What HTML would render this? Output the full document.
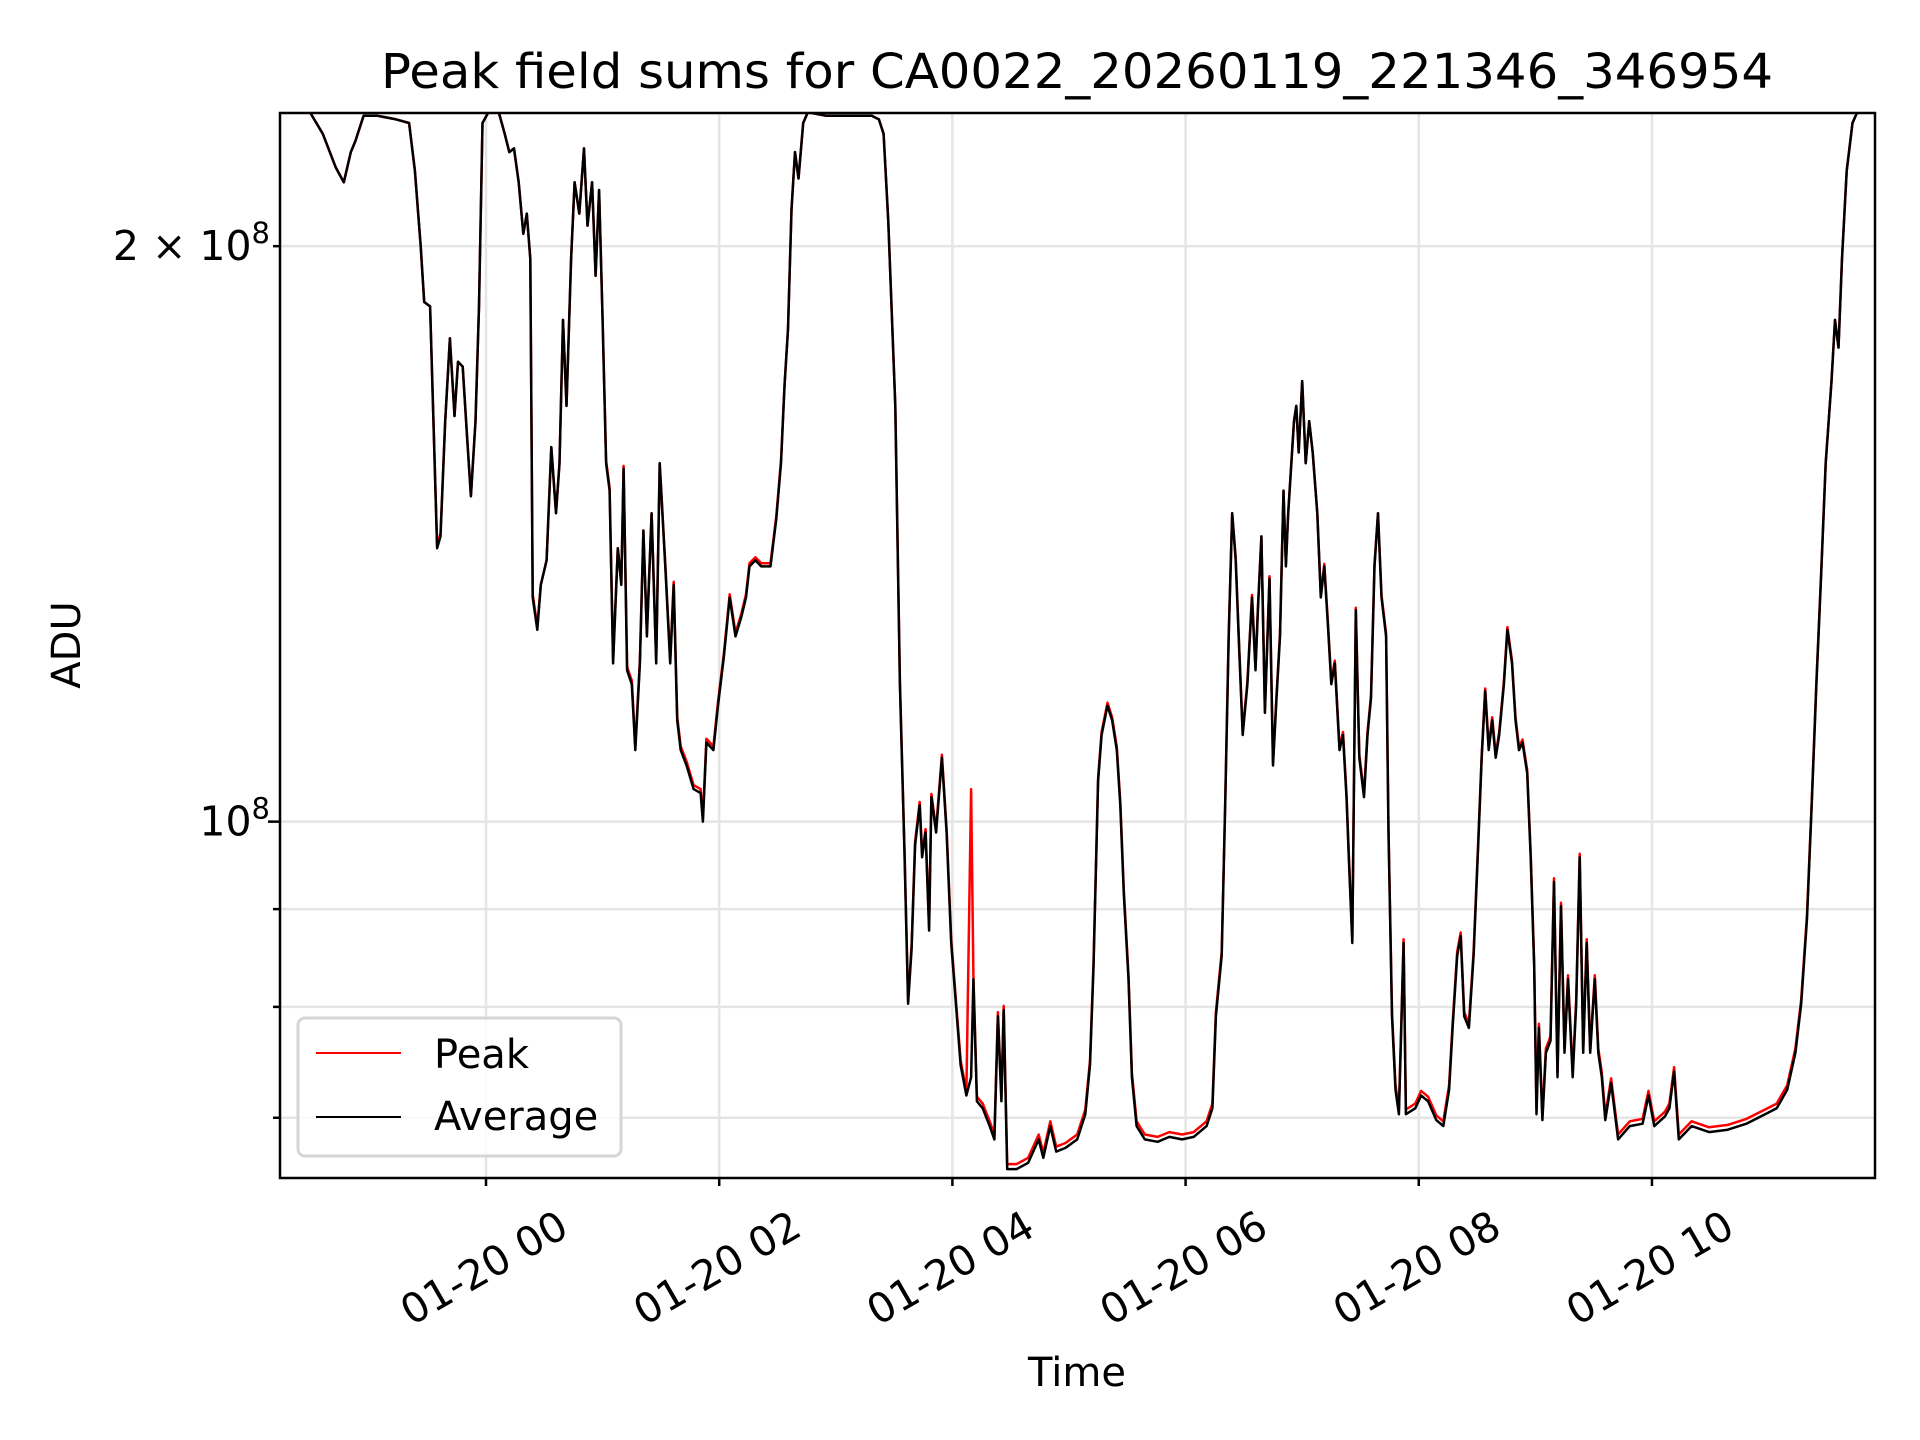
<!DOCTYPE html>
<html><head><meta charset="utf-8"><style>
html,body{margin:0;padding:0;background:#fff;}
svg{display:block;font-family:"DejaVu Sans","Liberation Sans",sans-serif;}
</style></head><body>
<svg id="chart" width="1920" height="1440" viewBox="0 0 1920 1440" xmlns="http://www.w3.org/2000/svg">
<rect width="1920" height="1440" fill="#fff"/>
<text x="1077" y="88" font-size="48" text-anchor="middle" textLength="1392" lengthAdjust="spacingAndGlyphs">Peak field sums for CA0022_20260119_221346_346954</text>
<g id="grid"></g>
<defs><clipPath id="plotclip"><rect x="280" y="113" width="1595" height="1065"/></clipPath></defs>
<g id="series" clip-path="url(#plotclip)"></g>
<rect x="280" y="113" width="1595" height="1065" fill="none" stroke="#000" stroke-width="2.5"/>
<g id="ticks"></g>
<text x="0" y="0" font-size="40" text-anchor="middle" transform="translate(80,645) rotate(-90)">ADU</text>
<text x="1077" y="1386" font-size="40" text-anchor="middle">Time</text>
<g>
<rect x="298" y="1018" width="323" height="138" rx="7" fill="#fff" fill-opacity="0.8" stroke="#d6d6d6" stroke-width="3"/>
<line x1="316" y1="1053" x2="401" y2="1053" stroke="#ff0000" stroke-width="2"/>
<text x="434" y="1068" font-size="40">Peak</text>
<line x1="316" y1="1117" x2="401" y2="1117" stroke="#000" stroke-width="2"/>
<text x="434" y="1130" font-size="40">Average</text>
</g>
</svg>
<script>
const hours = [
-1.78,-1.51,-1.40,-1.29,-1.22,-1.16,-1.12,-1.05,-0.93,-0.77,
-0.66,-0.61,-0.56,-0.53,-0.48,-0.45,-0.42,-0.39,-0.35,-0.31,
-0.27,-0.24,-0.20,-0.16,-0.13,-0.09,-0.06,-0.03,0.02,0.11,
0.16,0.20,0.24,0.28,0.32,0.35,0.38,0.40,0.44,0.47,
0.52,0.56,0.60,0.63,0.66,0.69,0.73,0.76,0.80,0.84,
0.87,0.91,0.94,0.97,1.00,1.03,1.06,1.09,1.13,1.16,
1.18,1.21,1.25,1.28,1.32,1.35,1.38,1.42,1.46,1.49,
1.54,1.58,1.61,1.64,1.67,1.72,1.78,1.84,1.86,1.89,
1.95,1.99,2.04,2.09,2.14,2.19,2.23,2.26,2.31,2.36,
2.44,2.49,2.53,2.56,2.59,2.62,2.65,2.68,2.72,2.76,
2.92,3.07,3.31,3.37,3.41,3.45,3.51,3.55,3.59,3.62,
3.65,3.68,3.72,3.74,3.77,3.80,3.82,3.86,3.91,3.95,
3.99,4.03,4.07,4.12,4.16,4.18,4.21,4.26,4.32,4.36,
4.39,4.42,4.44,4.47,4.55,4.65,4.74,4.78,4.84,4.89,
4.97,5.07,5.14,5.18,5.21,5.25,5.28,5.33,5.37,5.41,
5.44,5.47,5.51,5.54,5.58,5.65,5.76,5.86,5.97,6.07,
6.18,6.23,6.26,6.31,6.34,6.37,6.40,6.43,6.46,6.49,
6.53,6.57,6.60,6.62,6.65,6.68,6.72,6.75,6.78,6.81,
6.84,6.86,6.88,6.93,6.95,6.97,7.00,7.03,7.06,7.09,
7.13,7.16,7.19,7.22,7.25,7.28,7.32,7.35,7.38,7.40,
7.43,7.46,7.49,7.53,7.56,7.59,7.62,7.65,7.68,7.72,
7.74,7.77,7.80,7.83,7.87,7.89,7.97,8.02,8.08,8.15,
8.21,8.26,8.29,8.33,8.36,8.39,8.43,8.47,8.51,8.54,
8.57,8.60,8.63,8.66,8.69,8.73,8.76,8.80,8.83,8.86,
8.89,8.93,8.96,8.99,9.01,9.03,9.06,9.09,9.13,9.16,
9.19,9.22,9.25,9.28,9.32,9.35,9.38,9.41,9.44,9.47,
9.51,9.54,9.57,9.60,9.65,9.71,9.81,9.92,9.97,10.02,
10.11,10.15,10.19,10.23,10.34,10.49,10.65,10.81,10.97,11.07,
11.16,11.23,11.28,11.33,11.37,11.41,11.45,11.49,11.54,11.57,
11.60,11.63,11.67,11.72,11.76,11.93];
const averageValues = [
2.35,2.35,2.29,2.20,2.16,2.24,2.27,2.34,2.34,2.33,
2.32,2.19,2.0,1.87,1.86,1.61,1.39,1.41,1.62,1.79,
1.63,1.74,1.73,1.58,1.48,1.62,1.86,2.32,2.35,2.35,
2.29,2.24,2.25,2.16,2.03,2.08,1.97,1.31,1.26,1.33,
1.37,1.57,1.45,1.54,1.83,1.65,1.97,2.16,2.08,2.25,
2.05,2.16,1.93,2.14,1.83,1.54,1.49,1.21,1.39,1.33,
1.53,1.20,1.18,1.09,1.21,1.42,1.25,1.45,1.21,1.54,
1.35,1.21,1.33,1.13,1.09,1.07,1.04,1.035,1.0,1.10,
1.09,1.15,1.22,1.31,1.25,1.28,1.31,1.36,1.37,1.36,
1.36,1.44,1.54,1.69,1.81,2.09,2.24,2.17,2.32,2.35,
2.34,2.34,2.34,2.33,2.29,2.06,1.65,1.18,0.958,0.803,
0.858,0.972,1.02,0.958,0.987,0.877,1.03,0.987,1.08,0.987,
0.864,0.803,0.746,0.719,0.735,0.827,0.714,0.708,0.693,0.682,
0.791,0.714,0.797,0.658,0.658,0.663,0.682,0.667,0.693,0.672,
0.675,0.682,0.703,0.746,0.839,1.05,1.11,1.15,1.13,1.09,
1.02,0.917,0.827,0.735,0.693,0.682,0.68,0.684,0.682,0.684,
0.693,0.708,0.791,0.851,1.02,1.25,1.45,1.37,1.23,1.11,
1.18,1.31,1.20,1.29,1.41,1.14,1.34,1.07,1.16,1.25,
1.49,1.36,1.45,1.62,1.65,1.56,1.70,1.54,1.62,1.56,
1.45,1.31,1.36,1.27,1.18,1.21,1.09,1.11,1.03,0.958,
0.864,1.29,1.08,1.03,1.11,1.16,1.36,1.45,1.31,1.25,
0.987,0.791,0.724,0.703,0.864,0.703,0.708,0.719,0.714,0.698,
0.693,0.724,0.78,0.851,0.871,0.791,0.78,0.851,0.972,1.08,
1.17,1.09,1.13,1.08,1.11,1.18,1.26,1.21,1.13,1.09,
1.10,1.06,0.958,0.839,0.703,0.78,0.698,0.757,0.768,0.93,
0.735,0.903,0.757,0.827,0.735,0.803,0.958,0.757,0.864,0.757,
0.827,0.757,0.735,0.698,0.73,0.682,0.693,0.695,0.719,0.693,
0.701,0.708,0.74,0.682,0.693,0.688,0.69,0.695,0.703,0.708,
0.724,0.757,0.803,0.89,1.02,1.18,1.34,1.54,1.70,1.83,
1.77,1.97,2.19,2.32,2.35,2.35];
const peakValues = [
2.35,2.35,2.29,2.20,2.16,2.24,2.27,2.34,2.34,2.33,
2.32,2.19,2.0,1.87,1.86,1.61,1.395,1.415,1.62,1.79,
1.63,1.74,1.73,1.58,1.48,1.62,1.86,2.32,2.35,2.35,
2.29,2.24,2.25,2.16,2.03,2.08,1.97,1.315,1.265,1.33,
1.37,1.57,1.45,1.54,1.83,1.65,1.97,2.16,2.08,2.25,
2.05,2.16,1.93,2.14,1.83,1.545,1.495,1.215,1.39,1.335,
1.535,1.205,1.185,1.095,1.215,1.42,1.255,1.45,1.215,1.54,
1.355,1.215,1.335,1.135,1.095,1.075,1.045,1.04,1.005,1.105,
1.095,1.155,1.225,1.315,1.255,1.285,1.315,1.365,1.375,1.365,
1.365,1.445,1.545,1.69,1.81,2.09,2.24,2.17,2.32,2.35,
2.34,2.34,2.34,2.33,2.29,2.06,1.65,1.185,0.962,0.807,
0.862,0.976,1.024,0.962,0.991,0.881,1.034,0.991,1.084,0.991,
0.868,0.807,0.75,0.723,1.04,0.831,0.718,0.712,0.697,0.686,
0.795,0.718,0.801,0.662,0.662,0.667,0.686,0.671,0.697,0.676,
0.679,0.686,0.707,0.75,0.843,1.054,1.114,1.154,1.134,1.094,
1.024,0.921,0.831,0.739,0.697,0.686,0.684,0.688,0.686,0.688,
0.697,0.712,0.795,0.855,1.024,1.254,1.45,1.374,1.234,1.114,
1.184,1.314,1.204,1.294,1.41,1.144,1.344,1.074,1.164,1.254,
1.49,1.364,1.45,1.62,1.65,1.56,1.70,1.54,1.62,1.56,
1.45,1.314,1.364,1.274,1.184,1.214,1.094,1.114,1.034,0.962,
0.868,1.294,1.084,1.034,1.114,1.164,1.364,1.45,1.314,1.254,
0.991,0.795,0.728,0.707,0.868,0.707,0.712,0.723,0.718,0.702,
0.697,0.728,0.784,0.855,0.875,0.795,0.784,0.855,0.976,1.084,
1.174,1.094,1.134,1.084,1.114,1.184,1.264,1.214,1.134,1.094,
1.104,1.064,0.962,0.843,0.707,0.784,0.702,0.761,0.772,0.934,
0.739,0.907,0.761,0.831,0.739,0.807,0.962,0.761,0.868,0.761,
0.831,0.761,0.739,0.702,0.734,0.686,0.697,0.699,0.723,0.697,
0.705,0.712,0.744,0.686,0.697,0.692,0.694,0.699,0.707,0.712,
0.728,0.761,0.807,0.894,1.024,1.184,1.344,1.54,1.70,1.83,
1.77,1.97,2.19,2.32,2.35,2.35];
const xTickHours = [0,2,4,6,8,10];
const xTickLabels = ["01-20 00","01-20 02","01-20 04","01-20 06","01-20 08","01-20 10"];
const yMinorTicks = [0.7,0.8,0.9,2.0];
const yMajorTicks = [1.0];

const NS = "http://www.w3.org/2000/svg";
const L = 280, R = 1875, T = 113, B = 1178;
const X0 = -1.767, X1 = 11.913;
const Y0 = Math.log(0.651), Y1 = Math.log(2.348);
function xs(h){ return L + (h - X0) / (X1 - X0) * (R - L); }
function ys(v){ return B - (Math.log(v) - Y0) / (Y1 - Y0) * (B - T); }
function mk(tag, attrs, parent){
  const e = document.createElementNS(NS, tag);
  for (const k in attrs) e.setAttribute(k, attrs[k]);
  parent.appendChild(e); return e;
}
const grid = document.getElementById('grid');
const ticks = document.getElementById('ticks');
const series = document.getElementById('series');

xTickHours.forEach((h, i) => {
  const x = xs(h);
  const g = mk('line', {x1:x, y1:T, x2:x, y2:B, stroke:'#e5e5e5', 'stroke-width':2.5}, grid);
  
  
  const t = mk('line', {x1:x, y1:B, x2:x, y2:B+8, stroke:'#000', 'stroke-width':2.5}, ticks);
  
  
  const lb = mk('text', {x:0, y:0, 'font-size':41, 'text-anchor':'middle', 'dominant-baseline':'central', transform:'translate(' + (x - 2) + ',1268) rotate(-30)'}, ticks);
  lb.textContent = xTickLabels[i];
  
  
});

yMinorTicks.concat(yMajorTicks).forEach(v => {
  const y = ys(v);
  const g = mk('line', {x1:L, y1:y, x2:R, y2:y, stroke:'#e5e5e5', 'stroke-width':2.5}, grid);
  
  
  const major = yMajorTicks.indexOf(v) >= 0;
  const t = mk('line', {x1:L - (major ? 12 : 7), y1:y, x2:L, y2:y, stroke:'#000', 'stroke-width':2.5}, ticks);
  
  
});

function yLabel(v, prefix){
  const y = ys(v);
  const t = mk('text', {x:270, y:y + 14, 'font-size':41, 'text-anchor':'end'}, ticks);
  
  
  t.appendChild(document.createTextNode(prefix + '10'));
  const s = document.createElementNS(NS, 'tspan');
  s.setAttribute('dy', '-17');
  s.setAttribute('font-size', '29');
  s.textContent = '8';
  t.appendChild(s);
}
yLabel(2.0, '2 \u00d7 ');
yLabel(1.0, '');

function pathFor(vals){
  let d = '';
  const n = Math.min(hours.length, vals.length);
  for (let i = 0; i < n; i++) d += (i ? 'L' : 'M') + xs(hours[i]).toFixed(1) + ',' + ys(vals[i]).toFixed(1);
  return d;
}
const peak = mk('path', {d:pathFor(peakValues), fill:'none', stroke:'#ff0000', 'stroke-width':2.5, 'stroke-linejoin':'round'}, series);


const avg = mk('path', {d:pathFor(averageValues), fill:'none', stroke:'#000', 'stroke-width':2.5, 'stroke-linejoin':'round'}, series);


</script>
</body></html>
